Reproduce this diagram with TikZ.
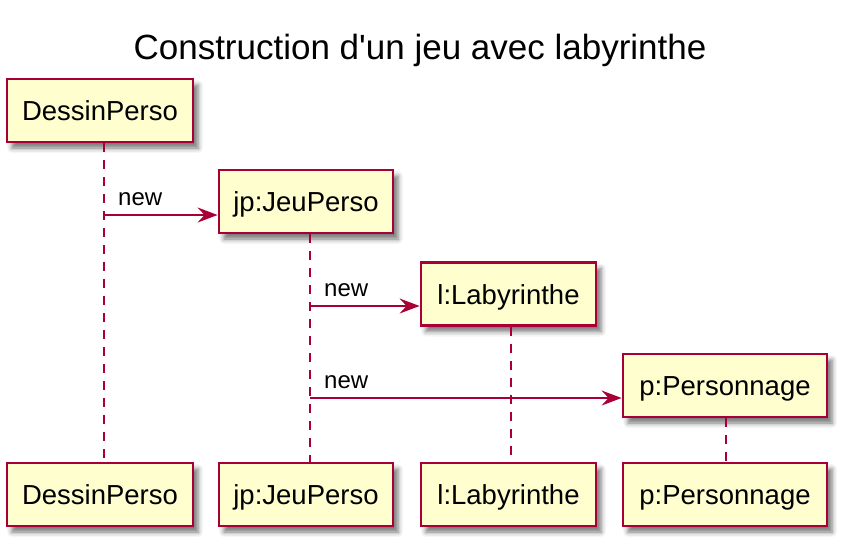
\documentclass[tikz,border=0pt]{standalone}
\usepackage{fontspec}
\setmainfont{Liberation Sans}
\newfontfamily\titlefont[Ligatures=ResetAll]{Liberation Sans}
\usetikzlibrary{arrows.meta,shadows.blur}
\definecolor{umlred}{HTML}{A80036}
\definecolor{umlfill}{HTML}{FEFECE}
\begin{document}
\begin{tikzpicture}[x=1pt,y=-1pt,
  part/.style={draw=umlred, fill=umlfill, line width=2.8pt, minimum height=63pt,
    inner sep=0pt, text height=20pt, text depth=0pt,
    font=\fontsize{27.5}{30}\selectfont,
    blur shadow={shadow xshift=5pt, shadow yshift=-6pt, shadow opacity=55, shadow blur radius=5pt}},
  lifeline/.style={draw=umlred, line width=2pt, dash pattern=on 9pt off 8pt},
  msg/.style={draw=umlred, line width=2pt, -{Stealth[length=20pt,width=15pt,inset=7pt]}},
  msglabel/.style={anchor=base west, inner sep=0pt, font=\fontsize{24}{26}\selectfont}]
\useasboundingbox (0,0) rectangle (851,550);
\node[anchor=base, inner sep=0pt, font=\titlefont\fontsize{35}{38}\selectfont] (title) at (420,59) {Construction d'un jeu avec labyrinthe};
% top participants
\node[part, minimum width=186pt] (dp) at (100,110.5) {DessinPerso};
\node[part, minimum width=174pt] (jp) at (306,201.5) {jp:JeuPerso};
\node[part, minimum width=175pt] (lb) at (508.5,294) {l:Labyrinthe};
\node[part, minimum width=204pt] (pp) at (725,385.5) {p:Personnage};
% bottom participants
\node[part, minimum width=186pt] (dpb) at (100,494.5) {DessinPerso};
\node[part, minimum width=174pt] (jpb) at (306,494.5) {jp:JeuPerso};
\node[part, minimum width=175pt] (lbb) at (508.5,494.5) {l:Labyrinthe};
\node[part, minimum width=204pt] (ppb) at (725,494.5) {p:Personnage};
% lifeline x positions
\coordinate (xdp) at (104,0);
\coordinate (xjp) at (310,0);
\coordinate (xlb) at (511,0);
\coordinate (xpp) at (726,0);
\path[lifeline] (dp.south -| xdp) -- (dpb.north -| xdp);
\path[lifeline] (jp.south -| xjp) -- (jpb.north -| xjp);
\path[lifeline] (lb.south -| xlb) -- (lbb.north -| xlb);
\path[lifeline] (pp.south -| xpp) -- (ppb.north -| xpp);
% messages
\coordinate (m1) at (104,215);
\coordinate (m2) at (310,306);
\coordinate (m3) at (310,398);
\draw[msg] (m1) -- (m1 -| jp.west);
\draw[msg] (m2) -- (m2 -| lb.west);
\draw[msg] (m3) -- (m3 -| pp.west);
\node[msglabel] (n1) at (118,205) {new};
\node[msglabel] (n2) at (324,296) {new};
\node[msglabel] (n3) at (324,388) {new};
\end{tikzpicture}
\end{document}
